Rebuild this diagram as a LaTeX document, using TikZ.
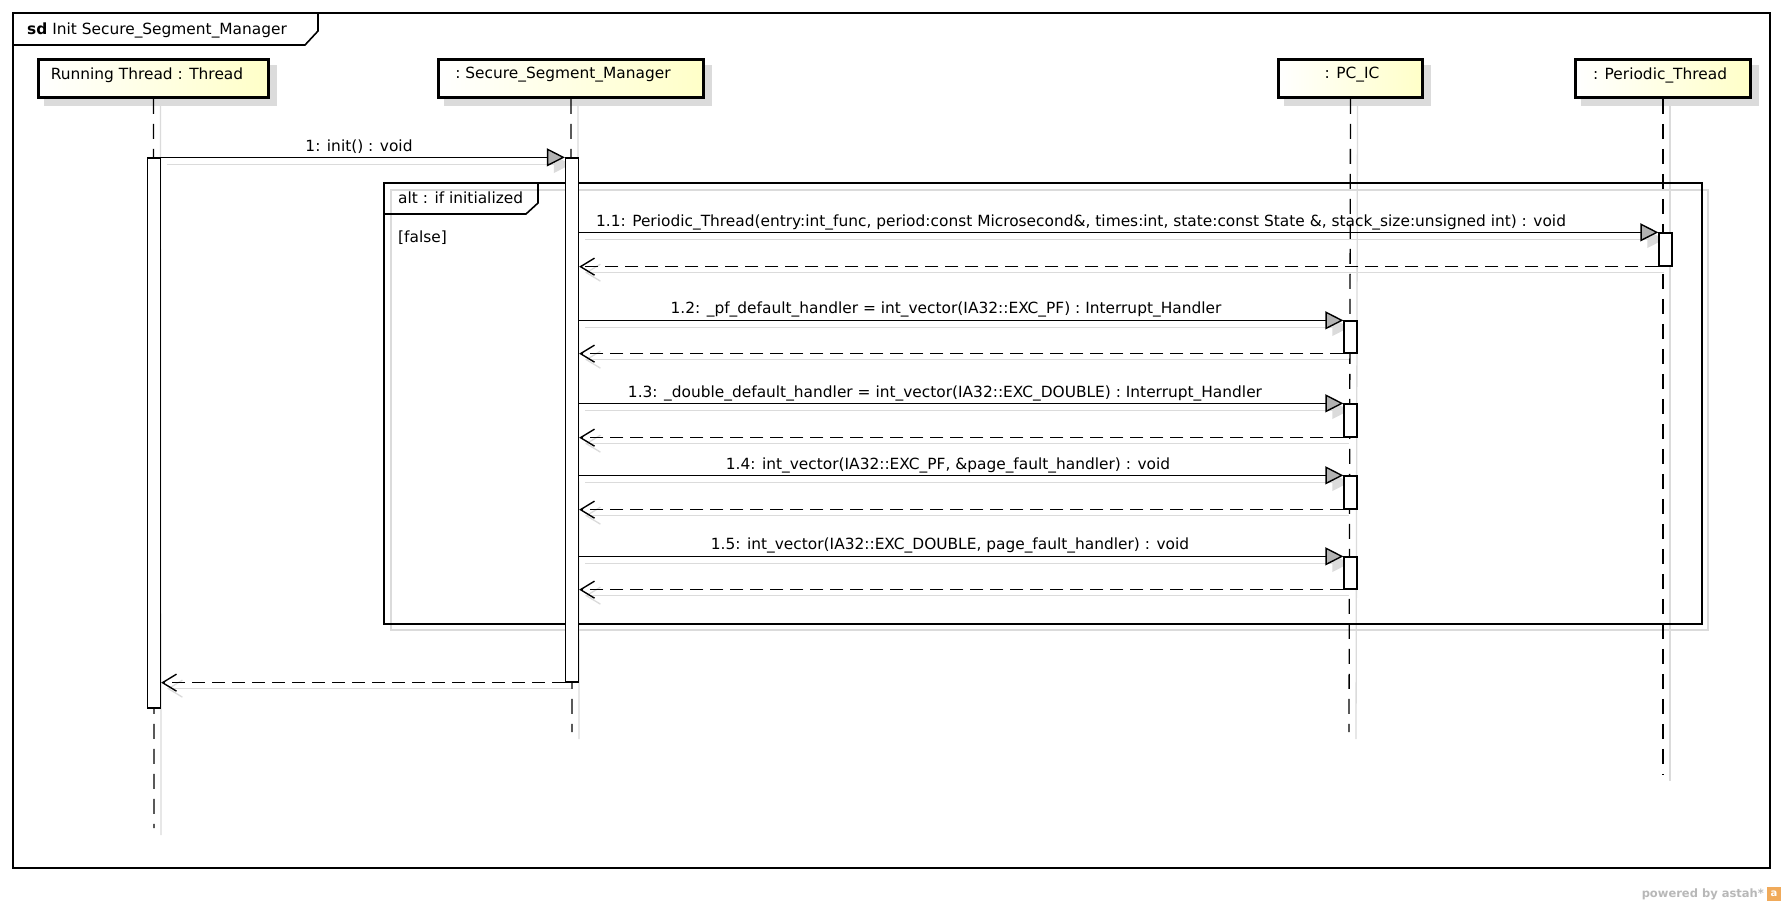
\documentclass[tikz,border=0pt]{standalone}
\usepackage{fontspec}
\setmainfont{DejaVu Sans}
\usetikzlibrary{arrows.meta,calc}
\definecolor{shd}{gray}{0.86}
\definecolor{headR}{RGB}{255,255,200}
\definecolor{astahgray}{gray}{0.72}
\definecolor{astahorange}{RGB}{240,170,90}
\pgfdeclarelayer{bg}
\pgfsetlayers{bg,main}
\newcommand\callmsg[2]{%
  \begin{pgfonlayer}{bg}\draw[shline,-{Triangle[length=17pt,width=17pt,fill=shd]}] ($(#1)+(6,7)$) -- ($(#2)+(6,7)$);\end{pgfonlayer}
  \draw[callline] (#1) -- (#2);}
\newcommand\retmsg[2]{%
  \begin{pgfonlayer}{bg}\draw[shline,-{Straight Barb[length=14pt,width=17pt]}] ($(#1)+(6,6)$) -- ($(#2)+(6,6)$);\end{pgfonlayer}
  \draw[retline] (#1) -- (#2);}
\begin{document}
\begin{tikzpicture}[x=1pt,y=-1pt,
  every node/.style={font=\fontsize{15.4}{18}\selectfont},
  head/.style={draw=black, line width=2.8pt, left color=white, right color=headR,
    minimum width=#1, minimum height=38pt, inner sep=0pt},
  actbar/.style={draw=black, line width=1.3pt, fill=white, minimum width=13pt, minimum height=#1, inner sep=0pt},
  lifeline/.style={draw=black, line width=1.3pt, dash pattern=on 15pt off 10pt},
  lifesh/.style={draw=shd, line width=1.3pt},
  callline/.style={draw=black, line width=1.4pt, -{Triangle[length=18pt,width=18pt,fill=gray!60]}},
  retline/.style={draw=black, line width=1.4pt, dash pattern=on 13pt off 7pt, -{Straight Barb[length=14pt,width=17pt]}},
  shline/.style={draw=shd, line width=1.3pt},
  frameline/.style={draw=black, line width=1.6pt},
  lbl/.style={inner sep=0pt, anchor=center}
]
\useasboundingbox (0,0) rectangle (1786,908);
\begin{pgfonlayer}{bg}
\fill[white] (0,0) rectangle (1786,908);
\end{pgfonlayer}

% outer frame
\draw[frameline] (13,13) rectangle (1770,868);
\draw[frameline] (318,13) -- (318,31) -- (305,45) -- (13,45);
\node[lbl, anchor=west] (title) at (27,30) {\textbf{sd} Init Secure\_Segment\_Manager};

% heads
\node[head=230pt] (rt) at (153.5,78.5) {};
\node[head=265pt] (ssm) at (571,78.5) {};
\node[head=144pt] (pc) at (1350.5,78.5) {};
\node[head=175pt] (pt) at (1663,78.5) {};
\node[lbl] (rtt) at (147,75) {Running Thread : Thread};
\node[lbl] (ssmt) at (563,75) {:\ Secure\_Segment\_Manager};
\node[lbl] (pct) at (1352,75) {: PC\_IC};
\node[lbl] (ptt) at (1660,75) {: Periodic\_Thread};
\begin{pgfonlayer}{bg}
\foreach \h in {rt,ssm,pc,pt}{
  \fill[shd] ($(\h.north west)+(7,7)$) rectangle ($(\h.south east)+(7,7)$);
}
\end{pgfonlayer}

% lifeline ends
\coordinate (rtend) at (154,828);
\coordinate (ssmend) at (572,732);
\coordinate (pcend) at (1349,732);
\coordinate (ptend) at (1663,774);
\begin{pgfonlayer}{bg}
\draw[lifesh] ($(rt.south)+(7,7)$) -- ($(rtend)+(7,7)$);
\draw[lifesh] ($(ssm.south)+(7,7)$) -- ($(ssmend)+(7,7)$);
\draw[lifesh] ($(pc.south)+(7,7)$) -- ($(pcend)+(7,7)$);
\draw[lifesh] ($(pt.south)+(7,7)$) -- ($(ptend)+(7,7)$);
\end{pgfonlayer}
\draw[lifeline] (rt.south) -- (rtend);
\draw[lifeline] (ssm.south) -- (ssmend);
\draw[lifeline] (pc.south) -- (pcend);
\draw[lifeline] (pt.south) -- (ptend);

% alt frame
\begin{pgfonlayer}{bg}
\draw[shd, line width=1.3pt] (391,190) rectangle (1708,630);
\end{pgfonlayer}
\draw[frameline] (384,183) rectangle (1702,624);
\draw[frameline] (538,183) -- (538,203) -- (526,214) -- (384,214);
\node[lbl, anchor=west] (altl) at (398,198) {alt : if initialized};
\node[lbl, anchor=west] (guard) at (398,238) {[false]};

% activation bars
\node[actbar=550pt] (a0) at (154,433) {};
\node[actbar=524pt] (a1) at (572,420) {};
\node[actbar=33pt] (b11) at (1665.5,249.5) {};
\node[actbar=32pt] (b12) at (1350.5,337) {};
\node[actbar=33pt] (b13) at (1350.5,420.5) {};
\node[actbar=33pt] (b14) at (1350.5,492.5) {};
\node[actbar=32pt] (b15) at (1350.5,573) {};

% message 1
\coordinate (m1s) at (a0.north east);
\callmsg{m1s}{a1.north west}
\node[lbl] (l1) at (359,147) {1: init() : void};
\coordinate (r1e) at (a0.east |- a1.south);
\retmsg{a1.south west}{r1e}

% 1.1
\coordinate (m11s) at (a1.east |- b11.north);
\coordinate (r11e) at (a1.east |- b11.south);
\callmsg{m11s}{b11.north west}
\retmsg{b11.south west}{r11e}
\node[lbl] (l11) at (1081,222) {1.1: Periodic\_Thread(entry:int\_func, period:const Microsecond\&, times:int, state:const State \&, stack\_size:unsigned int) : void};

% 1.2
\coordinate (m12s) at (a1.east |- b12.north);
\coordinate (r12e) at (a1.east |- b12.south);
\callmsg{m12s}{b12.north west}
\retmsg{b12.south west}{r12e}
\node[lbl] (l12) at (946,309) {1.2: \_pf\_default\_handler = int\_vector(IA32::EXC\_PF) : Interrupt\_Handler};

% 1.3
\coordinate (m13s) at (a1.east |- b13.north);
\coordinate (r13e) at (a1.east |- b13.south);
\callmsg{m13s}{b13.north west}
\retmsg{b13.south west}{r13e}
\node[lbl] (l13) at (945,393) {1.3: \_double\_default\_handler = int\_vector(IA32::EXC\_DOUBLE) : Interrupt\_Handler};

% 1.4
\coordinate (m14s) at (a1.east |- b14.north);
\coordinate (r14e) at (a1.east |- b14.south);
\callmsg{m14s}{b14.north west}
\retmsg{b14.south west}{r14e}
\node[lbl] (l14) at (948,465) {1.4: int\_vector(IA32::EXC\_PF, \&page\_fault\_handler) : void};

% 1.5
\coordinate (m15s) at (a1.east |- b15.north);
\coordinate (r15e) at (a1.east |- b15.south);
\callmsg{m15s}{b15.north west}
\retmsg{b15.south west}{r15e}
\node[lbl] (l15) at (950,545) {1.5: int\_vector(IA32::EXC\_DOUBLE, page\_fault\_handler) : void};

% powered by astah
\node[lbl, anchor=east, text=astahgray, font=\fontsize{11.5}{13}\selectfont\bfseries] (pw) at (1764,894) {powered by astah*};
\node[fill=astahorange, minimum width=14pt, minimum height=14pt, inner sep=0pt, text=white, font=\fontsize{10}{10}\selectfont\bfseries] (logo) at (1774,894) {a};
\end{tikzpicture}
\end{document}
